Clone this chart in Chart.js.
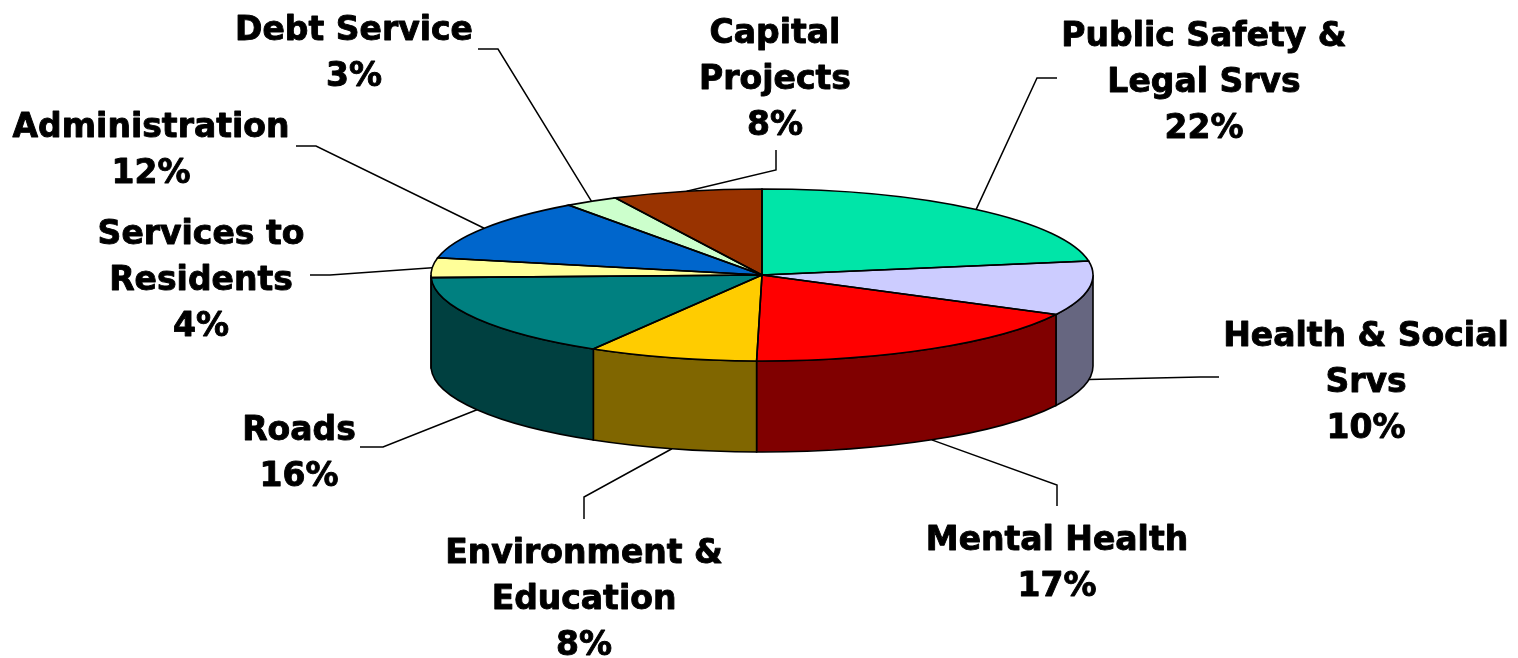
<!DOCTYPE html>
<html>
<head>
<meta charset="utf-8">
<title>Budget pie</title>
<script src="https://cdn.jsdelivr.net/npm/chart.js@4/dist/chart.umd.min.js"></script>
<style>
    html, body { margin: 0; padding: 0; background: #fff; }
    canvas { display: block; }
</style>
</head>
<body>
<canvas id="pie" width="1518" height="658"></canvas>
<script>
// clockwise from 12 o'clock
var categories = ['Public Safety & Legal Srvs', 'Health & Social Srvs', 'Mental Health', 'Environment & Education',
    'Roads', 'Services to Residents', 'Administration', 'Debt Service', 'Capital Projects'];
// slice sizes, the printed labels are rounded
var shares = [22.4, 10.2, 17.66, 8.25, 16, 3.7, 11.88, 2.6, 7.31];
var percents = [22, 10, 17, 8, 16, 4, 12, 3, 8];
var labelLines = [['Public Safety &', 'Legal Srvs'], ['Health & Social', 'Srvs'], ['Mental Health'], ['Environment &', 'Education'],
    ['Roads'], ['Services to', 'Residents'], ['Administration'], ['Debt Service'], ['Capital', 'Projects']];
var topColors = ['#00E5A8', '#CCCCFF', '#FF0000', '#FFCC00', '#008080', '#FFFF99', '#0066CC', '#CCFFCC', '#993300'];
var sideColors = ['#007354', '#666680', '#800000', '#806600', '#004040', '#80804D', '#003366', '#668066', '#4D1A00'];

// label text: centre x, first baseline
var labelPos = [[1204, 46], [1366, 346], [1057, 550], [584, 563], [299, 440], [201, 244], [151, 137], [354, 40], [775, 43]];
// leader: elbow, then end
var leaderPos = [[[1037, 78], [1057, 78]], [[1200, 377], [1219, 377]], [[1057, 485], [1057, 506]], [[584, 497], [584, 519]],
    [[383, 447], [360, 447]], [[330, 275], [310, 275]], [[316, 146], [296, 146]], [[498, 49], [478, 49]], [[776, 170], [776, 150]]];

var SQUASH = 86 / 331;
var DEPTH = 91;
var FONT = 'bold 33px "DejaVu Sans", sans-serif';
var LINE_H = 46;

var pie3d = {
    id: 'pie3d',
    beforeDatasetsDraw: function (chart) {
        var ctx = chart.ctx;
        var arcs = chart.getDatasetMeta(0).data;

        // side wall, only the front half shows
        ctx.lineWidth = 1.6;
        ctx.strokeStyle = '#000';
        arcs.forEach(function (arc, i) {
            var a0 = Math.max(arc.startAngle, 0);
            var a1 = Math.min(arc.endAngle, Math.PI);
            if (a1 <= a0) return;
            var ry = arc.outerRadius * SQUASH;
            ctx.beginPath();
            ctx.ellipse(arc.x, arc.y, arc.outerRadius, ry, 0, a0, a1);
            ctx.ellipse(arc.x, arc.y + DEPTH, arc.outerRadius, ry, 0, a1, a0, true);
            ctx.closePath();
            ctx.fillStyle = sideColors[i];
            ctx.fill();
            ctx.stroke();
        });

        // squash the library's own slices to the top ellipse
        var first = arcs[0];
        ctx.save();
        ctx.translate(first.x, first.y);
        ctx.scale(1, SQUASH);
        ctx.translate(-first.x, -first.y);
    },
    afterDatasetsDraw: function (chart) {
        var ctx = chart.ctx;
        ctx.restore();

        var arcs = chart.getDatasetMeta(0).data;
        ctx.lineWidth = 1.6;
        ctx.strokeStyle = '#000';
        arcs.forEach(function (arc) {
            ctx.beginPath();
            ctx.moveTo(arc.x, arc.y);
            ctx.ellipse(arc.x, arc.y, arc.outerRadius, arc.outerRadius * SQUASH, 0, arc.startAngle, arc.endAngle);
            ctx.closePath();
            ctx.stroke();
        });

        // leader lines start at the middle of each slice's rim
        ctx.lineWidth = 1.5;
        arcs.forEach(function (arc, i) {
            var mid = (arc.startAngle + arc.endAngle) / 2;
            var px = arc.x + arc.outerRadius * Math.cos(mid);
            var py = arc.y + arc.outerRadius * SQUASH * Math.sin(mid);
            if (Math.sin(mid) > 0) py += DEPTH;
            ctx.beginPath();
            ctx.moveTo(px, py);
            ctx.lineTo(leaderPos[i][0][0], leaderPos[i][0][1]);
            ctx.lineTo(leaderPos[i][1][0], leaderPos[i][1][1]);
            ctx.stroke();
        });

        ctx.font = FONT;
        ctx.fillStyle = '#000';
        ctx.textAlign = 'center';
        ctx.textBaseline = 'alphabetic';
        ctx.lineWidth = 0.9; // the reference lettering is heavier than DejaVu bold
        ctx.lineJoin = 'round';
        percents.forEach(function (v, i) {
            var lines = labelLines[i].concat(v + '%');
            lines.forEach(function (t, n) {
                ctx.fillText(t, labelPos[i][0], labelPos[i][1] + n * LINE_H);
                ctx.strokeText(t, labelPos[i][0], labelPos[i][1] + n * LINE_H);
            });
        });
    }
};

var ctx = document.getElementById('pie').getContext('2d');
new Chart(ctx, {
    type: 'pie',
    data: {
        labels: categories,
        datasets: [{
            data: shares,
            backgroundColor: topColors,
            borderWidth: 0,
            clip: false
        }]
    },
    options: {
        responsive: false,
        animation: false,
        radius: 331,
        layout: { padding: { left: 6, bottom: 108 } },
        plugins: { legend: { display: false }, tooltip: { enabled: false } }
    },
    plugins: [pie3d]
});
</script>
</body>
</html>
